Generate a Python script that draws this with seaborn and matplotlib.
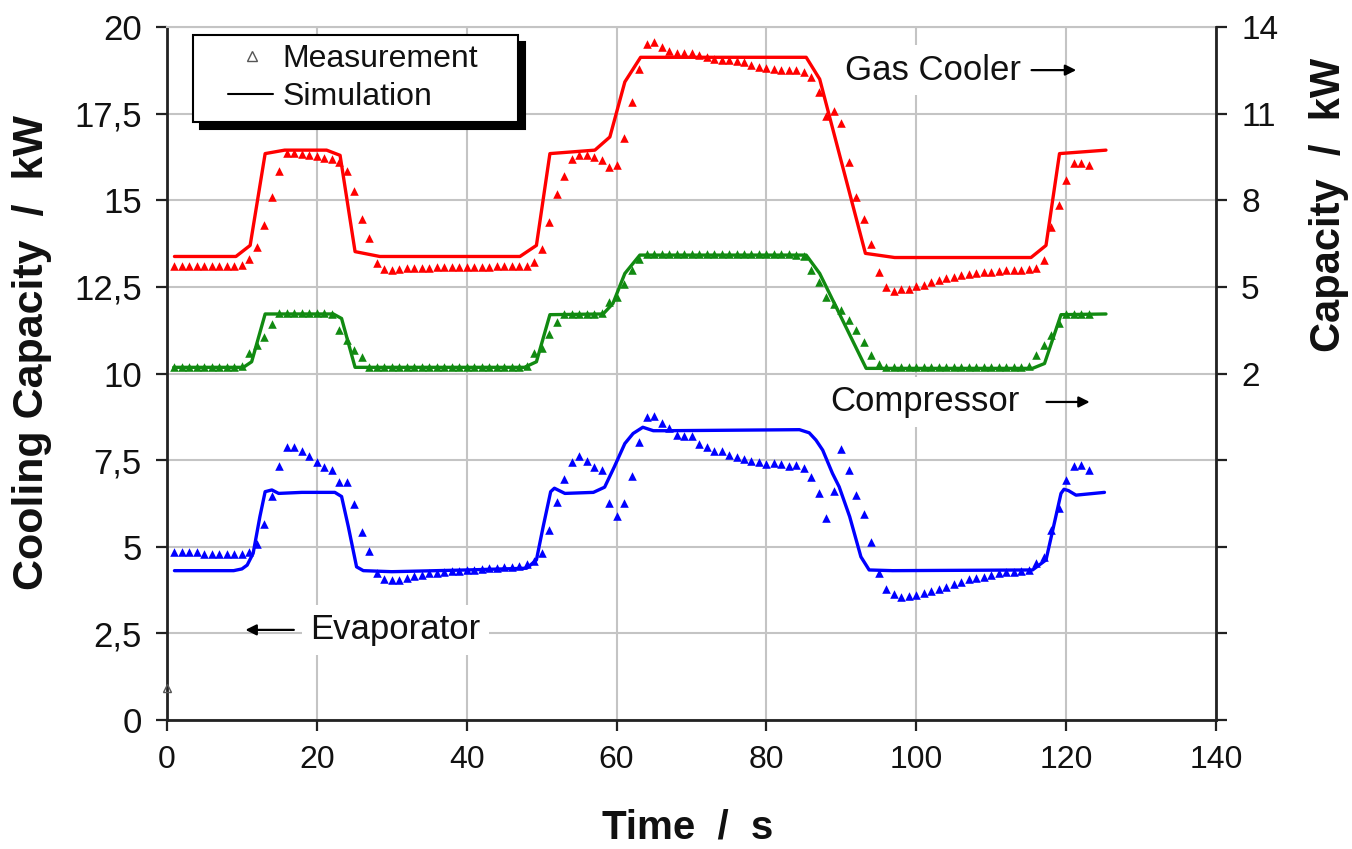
import numpy as np
import pandas as pd
import matplotlib
matplotlib.use("Agg")
import matplotlib.pyplot as plt
import seaborn as sns
from matplotlib.lines import Line2D
from matplotlib.legend_handler import HandlerLine2D

# ---------------- data (left-axis units, kW) ----------------
t_meas = list(range(1, 124))

gas_cooler_meas = [
    13.1, 13.1, 13.1, 13.1, 13.1, 13.1, 13.1, 13.1, 13.1, 13.12,          # 1-10
    13.3, 13.66, 14.3, 15.1, 15.85, 16.37, 16.37, 16.33, 16.3, 16.27,     # 11-20
    16.23, 16.2, 16.1, 15.85, 15.28, 14.47, 13.9, 13.18, 13.03, 13.0,     # 21-30
    13.03, 13.05, 13.05, 13.06, 13.06, 13.07, 13.07, 13.08, 13.08, 13.08, # 31-40
    13.08, 13.09, 13.09, 13.1, 13.1, 13.1, 13.1, 13.11, 13.23, 13.6,      # 41-50
    14.38, 15.17, 15.7, 16.2, 16.3, 16.3, 16.24, 16.16, 15.97, 16.02,     # 51-60
    16.81, 17.84, 18.8, 19.5, 19.58, 19.43, 19.32, 19.24, 19.24, 19.24,   # 61-70
    19.2, 19.15, 19.07, 19.05, 19.05, 19.03, 19.0, 18.9, 18.85, 18.83,    # 71-80
    18.8, 18.77, 18.75, 18.75, 18.71, 18.57, 18.13, 17.43, 17.58, 17.22,  # 81-90
    16.1, 15.09, 14.47, 13.73, 12.92, 12.5, 12.39, 12.43, 12.45, 12.53,   # 91-100
    12.57, 12.63, 12.7, 12.75, 12.79, 12.84, 12.87, 12.91, 12.92, 12.94,  # 101-110
    12.97, 12.99, 13.0, 13.0, 13.03, 13.05, 13.29, 14.24, 14.88, 15.58,   # 111-120
    16.09, 16.09, 16.02,                                                  # 121-123
]

compressor_meas = [
    10.2, 10.2, 10.2, 10.2, 10.2, 10.2, 10.2, 10.2, 10.2, 10.22,          # 1-10
    10.58, 10.82, 11.06, 11.43, 11.75, 11.75, 11.75, 11.75, 11.75, 11.75, # 11-20
    11.75, 11.72, 11.26, 10.97, 10.68, 10.49, 10.2, 10.2, 10.2, 10.2,     # 21-30
    10.2, 10.2, 10.2, 10.2, 10.2, 10.2, 10.2, 10.2, 10.2, 10.2,           # 31-40
    10.2, 10.2, 10.2, 10.2, 10.2, 10.2, 10.2, 10.22, 10.58, 10.75,        # 41-50
    11.13, 11.5, 11.72, 11.72, 11.72, 11.72, 11.72, 11.74, 12.07, 12.22,  # 51-60
    12.58, 12.99, 13.32, 13.45, 13.45, 13.45, 13.45, 13.45, 13.45, 13.45, # 61-70
    13.45, 13.45, 13.45, 13.45, 13.45, 13.45, 13.45, 13.45, 13.45, 13.45, # 71-80
    13.45, 13.45, 13.45, 13.43, 13.4, 12.99, 12.65, 12.2, 12.02, 11.83,   # 81-90
    11.56, 11.26, 10.92, 10.53, 10.29, 10.2, 10.2, 10.2, 10.2, 10.2,      # 91-100
    10.2, 10.2, 10.2, 10.2, 10.2, 10.2, 10.2, 10.2, 10.2, 10.2,           # 101-110
    10.2, 10.2, 10.2, 10.2, 10.22, 10.53, 10.82, 11.11, 11.45, 11.72,     # 111-120
    11.72, 11.72, 11.72,                                                  # 121-123
]

evaporator_meas = [
    4.85, 4.85, 4.85, 4.84, 4.8, 4.8, 4.8, 4.8, 4.8, 4.8,                 # 1-10
    4.85, 5.08, 5.65, 6.46, 7.34, 7.87, 7.87, 7.77, 7.62, 7.46,           # 11-20
    7.31, 7.22, 6.86, 6.86, 6.23, 5.43, 4.89, 4.23, 4.07, 4.04,           # 21-30
    4.04, 4.11, 4.16, 4.18, 4.23, 4.25, 4.28, 4.31, 4.31, 4.32,           # 31-40
    4.34, 4.36, 4.38, 4.4, 4.42, 4.43, 4.45, 4.5, 4.6, 4.81,              # 41-50
    5.48, 6.3, 6.95, 7.44, 7.62, 7.47, 7.31, 7.22, 6.27, 5.89,            # 51-60
    6.25, 7.04, 8.03, 8.74, 8.77, 8.56, 8.42, 8.23, 8.2, 8.2,             # 61-70
    7.98, 7.89, 7.77, 7.77, 7.65, 7.6, 7.53, 7.47, 7.45, 7.38,            # 71-80
    7.42, 7.38, 7.33, 7.35, 7.26, 7.02, 6.54, 5.84, 6.61, 7.81,           # 81-90
    7.22, 6.49, 5.95, 5.13, 4.23, 3.77, 3.63, 3.56, 3.57, 3.61,           # 91-100
    3.66, 3.71, 3.78, 3.85, 3.92, 3.99, 4.06, 4.11, 4.14, 4.18,           # 101-110
    4.23, 4.26, 4.28, 4.31, 4.33, 4.52, 4.7, 5.48, 6.11, 6.93,            # 111-120
    7.33, 7.35, 7.22,                                                     # 121-123
]

# simulation curves (vertices)
gc_sim_t = [1.0, 9.2, 11.1, 13.1, 15.7, 21.3, 23.1, 25.1, 28.4, 47.1, 49.3, 51.1,
            57.1, 59.1, 61.1, 63.2, 85.3, 87.1, 93.2, 97.1, 115.3, 117.3, 119.1, 125.3]
gc_sim_v = [13.38, 13.38, 13.7, 16.35, 16.45, 16.45, 16.3, 13.52, 13.38, 13.38, 13.7, 16.35,
            16.45, 16.83, 18.42, 19.13, 19.13, 18.5, 13.47, 13.35, 13.35, 13.7, 16.35, 16.45]

cp_sim_t = [0.9, 10.2, 11.3, 13.1, 22.2, 23.3, 25.1, 47.7, 49.3, 51.1, 58.2, 59.5,
            61.1, 63.1, 85.3, 87.1, 93.3, 115.5, 117.1, 119.3, 125.3]
cp_sim_v = [10.18, 10.18, 10.34, 11.72, 11.72, 11.59, 10.18, 10.18, 10.34, 11.7, 11.72, 12.02,
            12.89, 13.42, 13.42, 12.89, 10.15, 10.15, 10.29, 11.7, 11.72]

ev_sim_t = [1.0, 8.9, 10.0, 10.7, 11.5, 12.4, 13.1, 14.0, 14.9, 18.0, 22.4, 23.3, 24.2,
            25.3, 26.2, 30.0, 40.0, 48.0, 49.3, 50.2, 51.2, 51.7, 53.1, 56.9, 58.4, 59.7,
            61.1, 62.2, 63.5, 64.9, 66.6, 84.4, 85.7, 86.6, 87.5, 88.8, 89.7, 91.1, 92.6,
            93.7, 96.8, 115.5, 117.3, 118.2, 119.3, 119.7, 120.3, 121.3, 125.1]
ev_sim_v = [4.31, 4.31, 4.36, 4.47, 4.81, 5.87, 6.59, 6.64, 6.54, 6.57, 6.57, 6.45, 5.58,
            4.42, 4.31, 4.28, 4.33, 4.38, 4.62, 5.58, 6.59, 6.69, 6.54, 6.57, 6.72, 7.31,
            7.98, 8.27, 8.45, 8.35, 8.35, 8.38, 8.29, 8.08, 7.79, 7.12, 6.73, 5.87, 4.71,
            4.33, 4.31, 4.33, 4.62, 5.48, 6.54, 6.66, 6.62, 6.49, 6.57]

stray_t = [0.0]
stray_v = [0.92]

x_ticks = [0, 20, 40, 60, 80, 100, 120, 140]
y_ticks = [0, 2.5, 5, 7.5, 10, 12.5, 15, 17.5, 20]
y_tick_labels = ["0", "2,5", "5", "7,5", "10", "12,5", "15", "17,5", "20"]
right_ticks = [-10, -7, -4, -1, 2, 5, 8, 11, 14]
right_tick_labels = ["", "", "", "", "2", "5", "8", "11", "14"]

RED, GREEN, BLUE = "#ff0000", "#118a11", "#0000ff"


class PlacedHandler(HandlerLine2D):
    """Line handler: line drawn over the right part of the handle box,
    single marker placed at a chosen fraction of the box."""
    def __init__(self, line_from=0.0, marker_at=0.5, **kw):
        super().__init__(**kw)
        self.line_from = line_from
        self.marker_at = marker_at

    def create_artists(self, legend, orig_handle, xdescent, ydescent, width,
                       height, fontsize, trans):
        arts = super().create_artists(legend, orig_handle, xdescent, ydescent,
                                      width, height, fontsize, trans)
        x0, x1 = -xdescent, -xdescent + width
        xa = x0 + self.line_from * width
        xm = x0 + self.marker_at * width
        for a in arts:
            yd = np.asarray(a.get_ydata(), float)
            if len(yd) == 3:
                a.set_data([xa, xm, x1], yd)
            elif len(yd) == 2:
                a.set_data([xa, x1], yd)
            elif len(yd) == 1:
                a.set_data([xm], yd)
        return arts


# ---------------- figure ----------------
sns.set_theme(style="white")
plt.rcParams["font.family"] = ["Liberation Sans", "DejaVu Sans"]

fig = plt.figure(figsize=(13.52, 8.49), dpi=100)
ax = fig.add_axes([0.1235, 0.152, 0.776, 0.816])

meas = pd.DataFrame({"t": t_meas, "gc": gas_cooler_meas,
                     "cp": compressor_meas, "ev": evaporator_meas})

for t, v, c in [(gc_sim_t, gc_sim_v, RED), (cp_sim_t, cp_sim_v, GREEN), (ev_sim_t, ev_sim_v, BLUE)]:
    sns.lineplot(x=t, y=v, ax=ax, color=c, lw=2.4, sort=False, estimator=None, zorder=3)

for col, c in [("gc", RED), ("cp", GREEN), ("ev", BLUE)]:
    sns.scatterplot(data=meas, x="t", y=col, ax=ax, marker="^", s=38, color=c,
                    linewidth=0, zorder=4)

ax.plot(stray_t, stray_v, marker="^", ls="none", ms=6, mfc="none", mec="#555555",
        mew=1.0, clip_on=False, zorder=5)

ax.set_xlim(0, 140)
ax.set_ylim(0, 20)
ax.set_xticks(x_ticks)
ax.set_xticklabels([str(v) for v in x_ticks])
ax.set_yticks(y_ticks)
ax.set_yticklabels(y_tick_labels)
ax.grid(True, color="#c4c4c4", lw=1.5)
ax.set_axisbelow(True)
for s in ["left", "bottom"]:
    ax.spines[s].set_color("#222222")
    ax.spines[s].set_linewidth(2.0)
ax.spines["top"].set_color("#c4c4c4")
ax.spines["top"].set_linewidth(1.5)
ax.spines["right"].set_visible(False)
ax.tick_params(axis="both", direction="out", length=8, width=1.6, color="#222222",
               labelcolor="#111111", left=True, bottom=True)
ax.tick_params(axis="x", labelsize=23, pad=10)
ax.tick_params(axis="y", labelsize=25, pad=10)

ax.set_xlabel("Time  /  s", fontsize=29, fontweight="bold", color="#111111")
ax.set_ylabel("Cooling Capacity  /  kW", fontsize=31, fontweight="bold", color="#111111")
ax.xaxis.set_label_coords(0.496, -0.128)
ax.yaxis.set_label_coords(-0.110, 0.531)

ax2 = ax.twinx()
ax2.set_ylim(-10, 14)
ax2.set_yticks(right_ticks)
ax2.set_yticklabels(right_tick_labels)
ax2.grid(False)
for s in ["left", "top", "bottom"]:
    ax2.spines[s].set_visible(False)
ax2.spines["right"].set_color("#222222")
ax2.spines["right"].set_linewidth(2.0)
ax2.tick_params(axis="y", direction="out", length=8, width=1.6, color="#222222",
                labelsize=24, labelcolor="#111111", right=True, pad=10)
ax2.set_ylabel("Capacity  /  kW", fontsize=30, fontweight="bold", rotation=90, color="#111111")
ax2.yaxis.set_label_coords(1.089, 0.743)

# annotations
bb = dict(facecolor="white", edgecolor="none", pad=6)
ax.text(90.5, 18.76, "Gas Cooler", fontsize=25, va="center", ha="left", bbox=bb,
        zorder=6, color="#111111")
ax.annotate("", xy=(121.7, 18.76), xytext=(115.0, 18.76),
            arrowprops=dict(arrowstyle="-|>", color="black", lw=1.6, mutation_scale=16), zorder=7)
ax.text(88.5, 9.18, "Compressor", fontsize=25, va="center", ha="left", bbox=bb,
        zorder=6, color="#111111")
ax.annotate("", xy=(123.5, 9.18), xytext=(117.0, 9.18),
            arrowprops=dict(arrowstyle="-|>", color="black", lw=1.6, mutation_scale=16), zorder=7)
ax.text(19.1, 2.6, "Evaporator", fontsize=25, va="center", ha="left", bbox=bb,
        zorder=6, color="#111111")
ax.annotate("", xy=(10.1, 2.6), xytext=(17.3, 2.6),
            arrowprops=dict(arrowstyle="-|>", color="black", lw=1.6, mutation_scale=16), zorder=7)

h_meas = Line2D([], [], marker="^", ls="none", ms=7, mfc="none", mec="#555555", mew=1.0)
h_sim = Line2D([], [], color="black", lw=1.5)
leg = ax.legend([h_meas, h_sim], ["Measurement", "Simulation"], loc="upper left",
                bbox_to_anchor=(0.025, 0.5, 0.31, 0.489), mode="expand",
                borderaxespad=0, fontsize=23,
                frameon=True, fancybox=False, handlelength=2.2, handletextpad=0.3,
                labelspacing=0.25, borderpad=0.3,
                handler_map={h_meas: PlacedHandler(marker_at=0.70),
                             h_sim: PlacedHandler(line_from=0.36)},
                shadow={"ox": 5, "oy": -5, "color": "black", "alpha": 1})
leg.get_frame().set_edgecolor("black")
leg.get_frame().set_linewidth(1.5)
leg.get_frame().set_facecolor("white")
leg.get_frame().set_alpha(1)
for txt in leg.get_texts():
    txt.set_color("#111111")
leg.set_zorder(10)

fig.savefig("out.png", dpi=100, facecolor="white")
